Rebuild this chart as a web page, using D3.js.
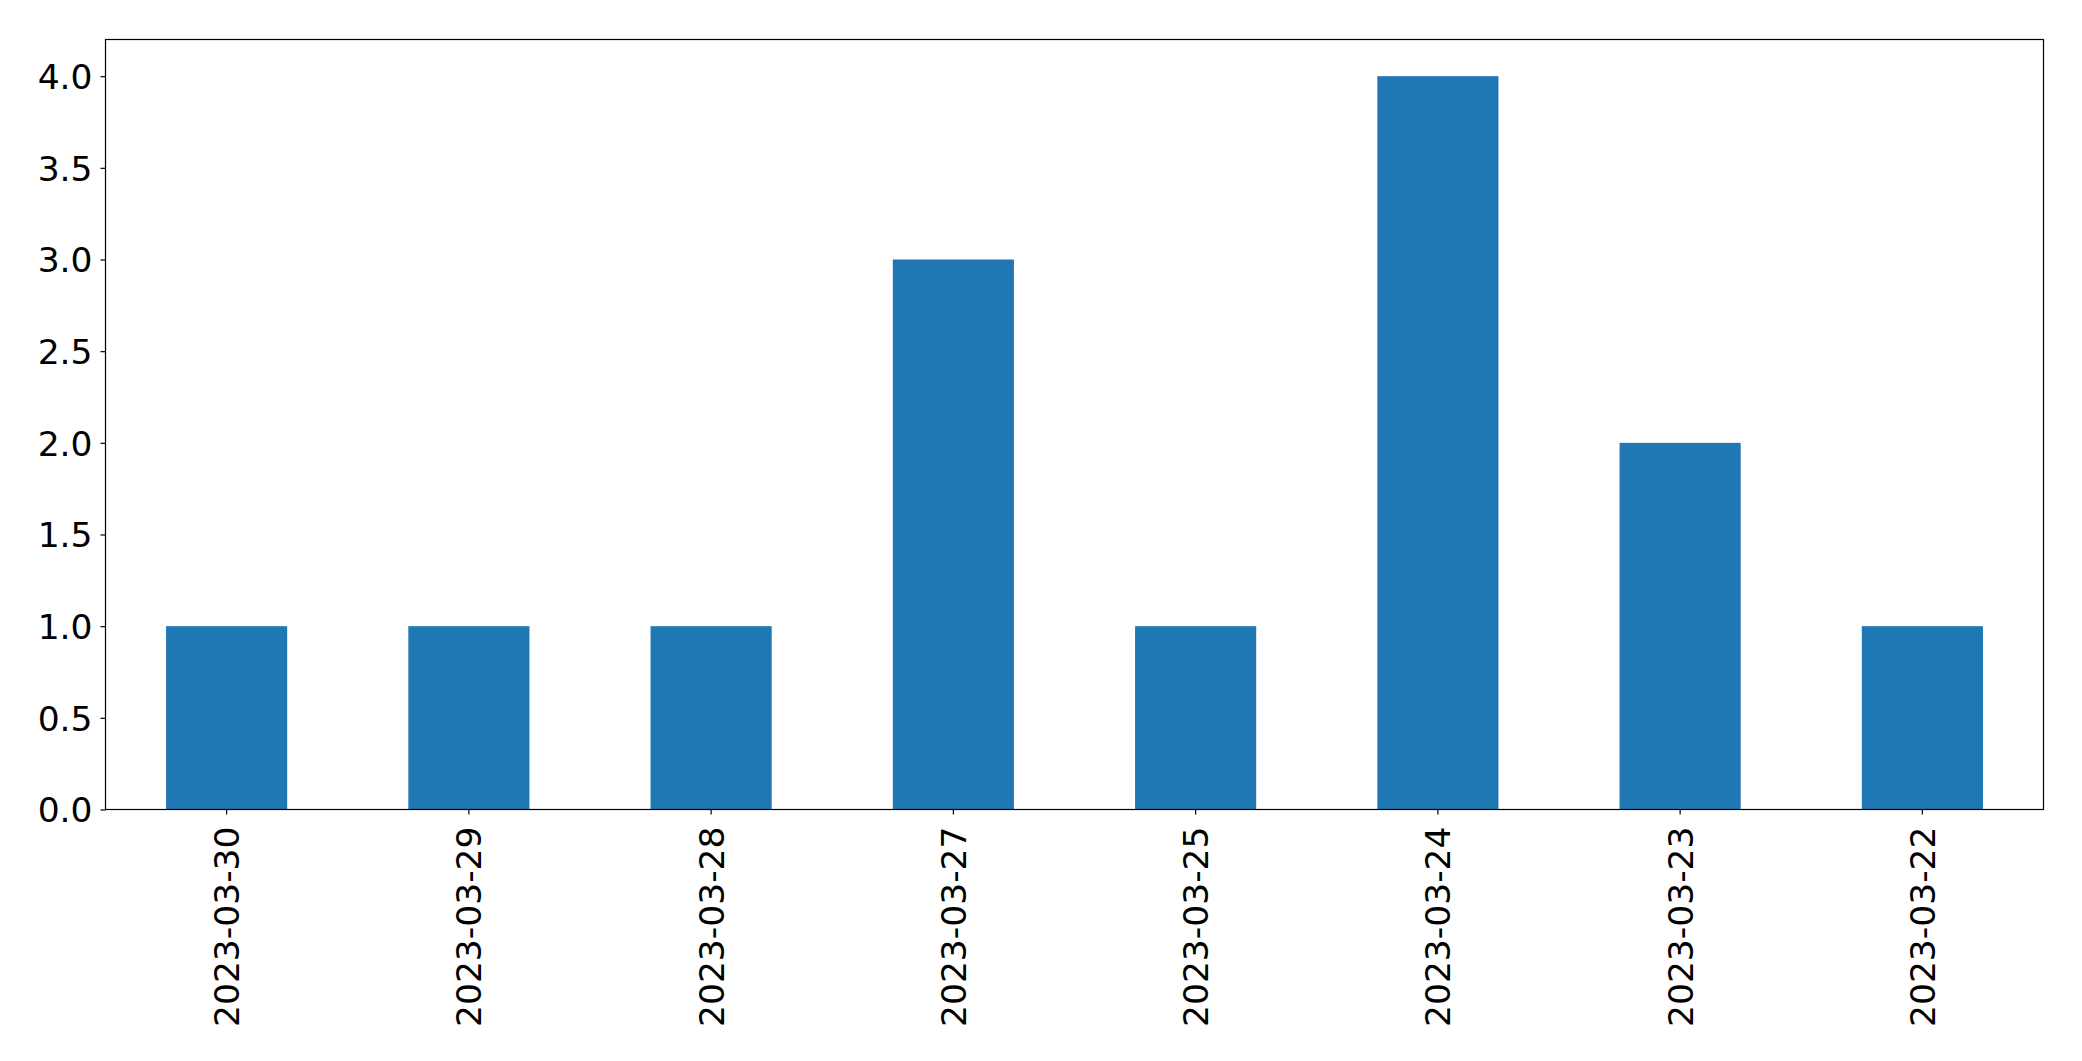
<!DOCTYPE html>
<html><head><meta charset="utf-8">
<script src="https://cdn.jsdelivr.net/npm/d3@7"></script>
<style>body{margin:0;background:#fff}svg{display:block}text{font-family:"DejaVu Sans",sans-serif}</style>
</head><body>
<script>
const categories = ["2023-03-30","2023-03-29","2023-03-28","2023-03-27","2023-03-25","2023-03-24","2023-03-23","2023-03-22"];
const values = [1,1,1,3,1,4,2,1];
const yTicks = [0,0.5,1,1.5,2,2.5,3,3.5,4];

const W=2082,H=1061;
const m={left:105.5,top:39.5,right:2043.5,bottom:809.5};
const svg=d3.select("body").append("svg").attr("width",W).attr("height",H);
const x=d3.scaleBand().domain(categories).range([m.left,m.right]).paddingInner(0.5).paddingOuter(0.25);
const y=d3.scaleLinear().domain([0,4.2]).range([m.bottom,m.top]);

svg.selectAll("rect.bar").data(values).enter().append("rect").attr("class","bar")
  .attr("x",(d,i)=>x(categories[i])).attr("width",x.bandwidth())
  .attr("y",d=>y(d)).attr("height",d=>y(0)-y(d)).attr("fill","#1f77b4");

const fs=34.5;
const ya=svg.append("g").attr("transform",`translate(${m.left},0)`)
  .call(d3.axisLeft(y).tickValues(yTicks).tickFormat(d3.format(".1f")).tickSize(5).tickPadding(8));
const xa=svg.append("g").attr("transform",`translate(0,${m.bottom})`)
  .call(d3.axisBottom(x).tickSize(5).tickPadding(0));
[ya,xa].forEach(g=>{g.select(".domain").remove();g.selectAll("line").attr("stroke","#000").attr("stroke-width",1.2);g.selectAll("text").attr("font-size",fs).attr("fill","#000").attr("font-family","DejaVu Sans");});
ya.selectAll("text").attr("dy","0.36em");
xa.selectAll("text").attr("transform","rotate(-90)").attr("text-anchor","end")
  .attr("x",-17).attr("y",0).attr("dy","0.36em");

svg.append("rect").attr("x",m.left).attr("y",m.top).attr("width",m.right-m.left).attr("height",m.bottom-m.top)
  .attr("fill","none").attr("stroke","#000").attr("stroke-width",1.2);
</script>
</body></html>
